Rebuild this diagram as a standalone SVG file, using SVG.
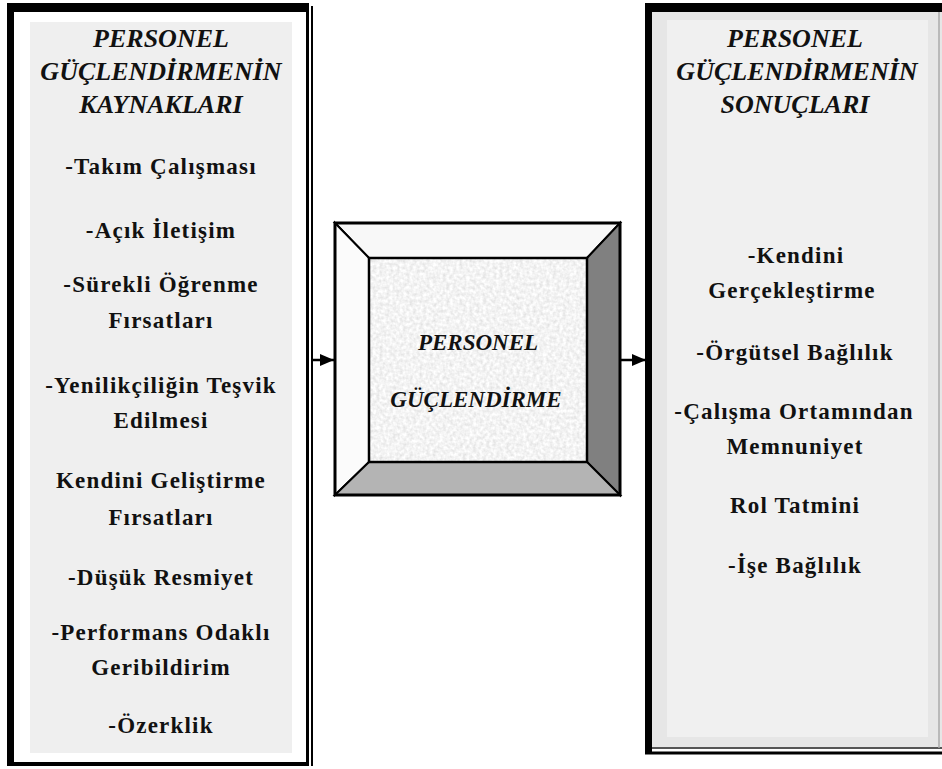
<svg xmlns="http://www.w3.org/2000/svg" width="942" height="769" viewBox="0 0 942 769">
<style>
text{font-family:"Liberation Serif","Times New Roman",serif;fill:#111;text-anchor:middle;font-weight:bold}
.title{font-size:26px;font-style:italic}
.item{font-size:23px;letter-spacing:1.2px}
.ctitle{font-size:23px;font-style:italic}
.bev{stroke:#000;stroke-width:2;stroke-linejoin:miter}
.conn{stroke:#000;stroke-width:2.5;fill:none}
</style>
<defs>
<marker id="ah" markerUnits="userSpaceOnUse" markerWidth="14" markerHeight="12" refX="14" refY="6" orient="auto">
<path d="M0,0 L14,6 L0,12 z" fill="#000"/>
</marker>
<filter id="granite" x="0" y="0" width="1" height="1">
<feTurbulence type="fractalNoise" baseFrequency="0.3" numOctaves="2" seed="3" result="n"/>
<feColorMatrix in="n" type="matrix" values="0.4 0 0 0 0.7  0.4 0 0 0 0.7  0.4 0 0 0 0.7  0 0 0 0 1" result="g"/>
<feComposite in="g" in2="SourceAlpha" operator="in"/>
</filter>
</defs>
<rect width="942" height="769" fill="#fff"/>

<g id="sources">
<rect x="7" y="3" width="302" height="763" fill="#000"/>
<rect x="14" y="12" width="292" height="750" fill="#fff"/>
<line x1="312" y1="6" x2="312" y2="766" stroke="#000" stroke-width="2"/>
<rect x="30" y="22" width="262" height="731" fill="#efefef"/>
<text class="title" x="161" y="47">PERSONEL</text>
<text class="title" x="161" y="80">GÜÇLENDİRMENİN</text>
<text class="title" x="161" y="113">KAYNAKLARI</text>
<text class="item" x="161" y="174">-Takım Çalışması</text>
<text class="item" x="161" y="238">-Açık İletişim</text>
<text class="item" x="161" y="292">-Sürekli Öğrenme</text>
<text class="item" x="161" y="328">Fırsatları</text>
<text class="item" x="161" y="393">-Yenilikçiliğin Teşvik</text>
<text class="item" x="161" y="428">Edilmesi</text>
<text class="item" x="161" y="488">Kendini Geliştirme</text>
<text class="item" x="161" y="525">Fırsatları</text>
<text class="item" x="161" y="585">-Düşük Resmiyet</text>
<text class="item" x="161" y="640">-Performans Odaklı</text>
<text class="item" x="161" y="675">Geribildirim</text>
<text class="item" x="161" y="733">-Özerklik</text>
</g>

<g id="empowerment">
<polygon class="bev" points="335,223 620,223 587,258 369,258" fill="#f8f8f8"/>
<polygon class="bev" points="335,223 369,258 369,462 335,495" fill="#fbfbfb"/>
<polygon class="bev" points="620,223 620,495 587,462 587,258" fill="#808080"/>
<polygon class="bev" points="335,495 369,462 587,462 620,495" fill="#b4b4b4"/>
<rect x="369" y="258" width="218" height="204" fill="#ddd" filter="url(#granite)"/>
<rect x="369" y="258" width="218" height="204" fill="none" stroke="#000" stroke-width="2.5"/>
<rect x="335" y="223" width="285" height="272" fill="none" stroke="#000" stroke-width="3"/>
<text class="ctitle" x="478" y="350">PERSONEL</text>
<text class="ctitle" x="476" y="407">GÜÇLENDİRME</text>
</g>

<g id="outcomes">
<rect x="652" y="12" width="290" height="735" fill="#e6e6e6"/>
<rect x="667" y="20" width="261" height="717" fill="#f0f0f0"/>
<rect x="645" y="3" width="297" height="9" fill="#000"/>
<rect x="645" y="3" width="7" height="751" fill="#000"/>
<line x1="652" y1="748" x2="942" y2="748" stroke="#555" stroke-width="2"/>
<rect x="645" y="751.5" width="297" height="3" fill="#000"/>
<line x1="939" y1="12" x2="939" y2="748" stroke="#aaa" stroke-width="1.5"/>
<text class="title" x="795" y="47">PERSONEL</text>
<text class="title" x="797" y="80">GÜÇLENDİRMENİN</text>
<text class="title" x="795" y="113">SONUÇLARI</text>
<text class="item" x="796" y="263">-Kendini</text>
<text class="item" x="792" y="298">Gerçekleştirme</text>
<text class="item" x="795" y="360">-Örgütsel Bağlılık</text>
<text class="item" x="794" y="419">-Çalışma Ortamından</text>
<text class="item" x="795" y="454">Memnuniyet</text>
<text class="item" x="795" y="513">Rol Tatmini</text>
<text class="item" x="795" y="573">-İşe Bağlılık</text>
</g>

<g id="connectors">
<line class="conn" x1="313" y1="360" x2="334" y2="360" marker-end="url(#ah)"/>
<line class="conn" x1="620" y1="360" x2="646" y2="360" marker-end="url(#ah)"/>
</g>
</svg>
